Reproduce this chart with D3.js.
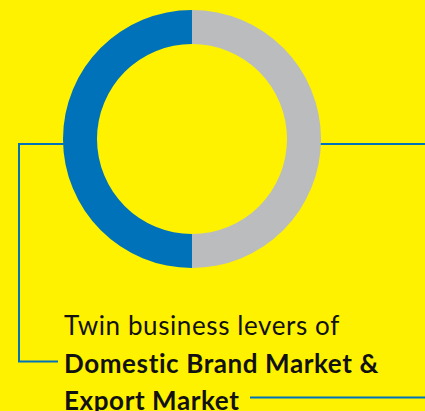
<!DOCTYPE html>
<html>
<head>
<meta charset="utf-8">
<script src="https://cdn.jsdelivr.net/npm/d3@7"></script>
<style>
  html, body { margin: 0; padding: 0; background: #FFF200; }
  svg { display: block; }
</style>
</head>
<body>
<svg id="chart" width="425" height="411"></svg>
<script>
// Data
const categories = ["Export Market", "Domestic Brand Market"];
const shares = [50, 50];
const sliceColors = ["#BBBCBE", "#0072BA"];
const captionLines = ["Twin business levers of", "Domestic Brand Market &", "Export Market"];
const captionBold = [false, true, true];

const W = 425, H = 411;
const svg = d3.select("#chart");
svg.append("rect").attr("width", W).attr("height", H).attr("fill", "#FFF200");

const cx = 192, cy = 139, rOuter = 129, rInner = 95;
const pie = d3.pie().sort(null).value(d => d.v);
const arcs = pie(categories.map((c, i) => ({c, v: shares[i]})));
const arc = d3.arc().innerRadius(rInner).outerRadius(rOuter);
const color = d3.scaleOrdinal().domain(categories).range(sliceColors);

const lineColor = "#0072BA";
const lw = 2;
// connector lines (behind donut)
const g0 = svg.append("g").attr("fill", "none").attr("stroke", lineColor).attr("stroke-width", lw);
g0.append("path").attr("d", d3.line()([[cx - rOuter + 2, 144], [19, 144], [19, 361.5], [58, 361.5]]));
g0.append("path").attr("d", d3.line()([[cx + rOuter - 2, 144], [W, 144]]));
g0.append("path").attr("d", d3.line()([[250, 397.5], [W, 397.5]]));

svg.append("g").attr("transform", `translate(${cx},${cy})`)
  .selectAll("path").data(arcs).join("path")
  .attr("d", arc)
  .attr("fill", d => color(d.data.c));

const tx = 64;
const baselines = [334.5, 372.5, 409.5];
svg.append("g").selectAll("text").data(captionLines).join("text")
  .attr("x", tx)
  .attr("y", (d, i) => baselines[i])
  .attr("font-family", "Lato, 'Noto Sans', sans-serif")
  .attr("font-size", 26)
  .attr("letter-spacing", 0.6)
  .attr("font-weight", (d, i) => captionBold[i] ? 700 : 400)
  .attr("fill", "#111")
  .text(d => d);
</script>
</body>
</html>
